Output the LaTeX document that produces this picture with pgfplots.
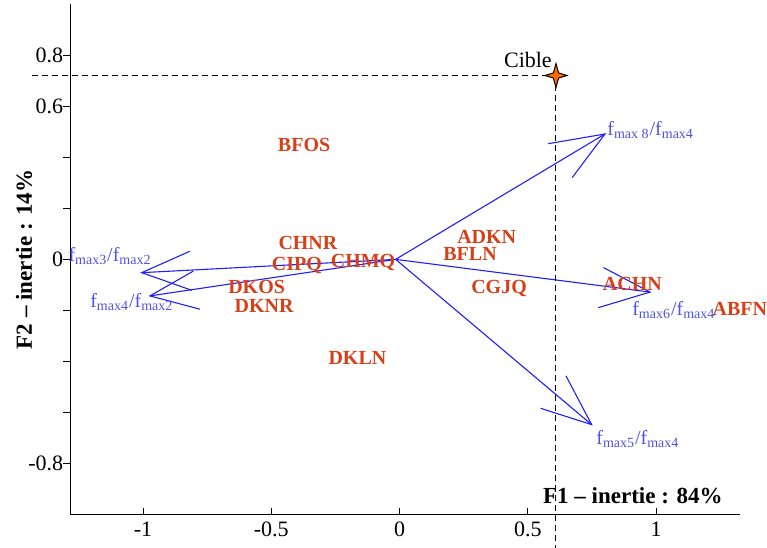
\documentclass[border=0pt]{standalone}
\usepackage{fontspec}
\setmainfont{Liberation Serif}
\usepackage{pgfplots}
\pgfplotsset{compat=1.18}
\definecolor{obs}{RGB}{214,64,24}
\definecolor{arr}{RGB}{30,30,255}
\definecolor{vlab}{RGB}{80,80,225}
\definecolor{starc}{RGB}{255,106,0}
\pgfdeclareplotmark{cible}{%
  \pgfpathmoveto{\pgfqpoint{0pt}{6pt}}%
  \pgfpathlineto{\pgfqpoint{1.3pt}{1.3pt}}%
  \pgfpathlineto{\pgfqpoint{5.5pt}{0pt}}%
  \pgfpathlineto{\pgfqpoint{1.3pt}{-1.3pt}}%
  \pgfpathlineto{\pgfqpoint{0pt}{-6pt}}%
  \pgfpathlineto{\pgfqpoint{-1.3pt}{-1.3pt}}%
  \pgfpathlineto{\pgfqpoint{-5.5pt}{0pt}}%
  \pgfpathlineto{\pgfqpoint{-1.3pt}{1.3pt}}%
  \pgfpathclose
  \pgfusepathqfillstroke}
\begin{document}
\begin{tikzpicture}
\begin{axis}[
  scale only axis, width=335pt, height=255.5pt,
  xmin=-1.284, xmax=1.327, ymin=-1, ymax=1,
  axis x line*=bottom, axis y line*=left,
  clip=false,
  xtick={-1,-0.5,0,0.5,1}, xticklabels={-1,-0.5,0,0.5,1},
  ytick={-0.8,-0.6,-0.4,-0.2,0,0.2,0.4,0.6,0.8},
  yticklabels={-0.8,{},{},{},0,{},{},0.6,0.8},
  tick align=inside, major tick length=3.5pt,
  ytick style={xshift=-3.5pt},
  every tick/.style={black, line width=0.5pt},
  axis line style={black, line width=0.5pt},
  tick label style={font=\fontsize{11}{13}\selectfont},
]
% dashed target lines
\addplot[black, line width=0.5pt, dash pattern=on 3pt off 2pt] coordinates {(-1.433,0.72) (0.61,0.72)};
\addplot[black, line width=0.5pt, dash pattern=on 3pt off 2pt] coordinates {(0.61,0.72) (0.61,-1.129)};
% arrows: shafts
\addplot[arr, line width=0.55pt] coordinates {(-0.015,0) (0.801,0.491)};
\addplot[arr, line width=0.55pt] coordinates {(-0.015,0) (0.977,-0.128)};
\addplot[arr, line width=0.55pt] coordinates {(-0.015,0) (0.749,-0.647)};
\addplot[arr, line width=0.55pt] coordinates {(-0.015,0) (-1.005,-0.052)};
\addplot[arr, line width=0.55pt] coordinates {(-0.015,0) (-0.973,-0.143)};
% arrow heads
\addplot[arr, line width=0.55pt] coordinates {(0.580,0.453) (0.801,0.491) (0.673,0.320)};
\addplot[arr, line width=0.55pt] coordinates {(0.795,-0.032) (0.977,-0.128) (0.775,-0.189)};
\addplot[arr, line width=0.55pt] coordinates {(0.649,-0.456) (0.749,-0.647) (0.550,-0.583)};
\addplot[arr, line width=0.55pt] coordinates {(-0.817,0.032) (-1.005,-0.052) (-0.810,-0.121)};
\addplot[arr, line width=0.55pt] coordinates {(-0.804,-0.046) (-0.973,-0.143) (-0.778,-0.195)};
% target star
\addplot[only marks, mark=cible, mark options={fill=starc, draw=black, line width=0.5pt}] coordinates {(0.61,0.72)};
% observation labels
\begin{scope}[every node/.style={font=\bfseries\fontsize{10}{12}\selectfont, text=obs, inner sep=0pt}]
\node at (axis cs:-0.372,0.449) {BFOS};
\node at (axis cs:-0.357,0.0625) {CHNR};
\node at (axis cs:-0.400,-0.022) {CIPQ};
\node at (axis cs:-0.142,-0.013) {CHMQ};
\node at (axis cs:-0.557,-0.107) {DKOS};
\node at (axis cs:-0.528,-0.182) {DKNR};
\node at (axis cs:-0.164,-0.387) {DKLN};
\node at (axis cs:0.340,0.089) {ADKN};
\node at (axis cs:0.275,0.022) {BFLN};
\node at (axis cs:0.388,-0.113) {CGJQ};
\node at (axis cs:0.908,-0.095) {ACHN};
\node at (axis cs:1.327,-0.193) {ABFN};
\end{scope}
% variable labels
\begin{scope}[every node/.style={font=\fontsize{10}{12}\selectfont, text=vlab, inner sep=0pt, anchor=west}]
\node at (axis cs:0.809,0.508) {f\textsubscript{max 8}/f\textsubscript{max4}};
\node at (axis cs:0.906,-0.199) {f\textsubscript{max6}/f\textsubscript{max4}};
\node at (axis cs:0.766,-0.703) {f\textsubscript{max5}/f\textsubscript{max4}};
\node at (axis cs:-1.292,0.012) {f\textsubscript{max3}/f\textsubscript{max2}};
\node at (axis cs:-1.207,-0.168) {f\textsubscript{max4}/f\textsubscript{max2}};
\end{scope}
\node[anchor=east, inner sep=0pt, font=\fontsize{11}{13}\selectfont] at (axis cs:0.595,0.78) {Cible};
\node[anchor=east, inner sep=0pt, font=\bfseries\fontsize{11.5}{13}\selectfont] at (axis cs:1.261,-0.926) {F1 -- inertie : 84\%};
\node[rotate=90, inner sep=0pt, font=\bfseries\fontsize{11.5}{13}\selectfont] at (axis description cs:-0.069,0.5) {F2 -- inertie : 14\%};
\coordinate (BL) at (axis cs:-1.5575,-1.1289);
\coordinate (TR) at (axis cs:1.4327,1.0156);
\end{axis}
\pgfresetboundingbox
\path (BL) rectangle (TR);
\end{tikzpicture}
\end{document}
